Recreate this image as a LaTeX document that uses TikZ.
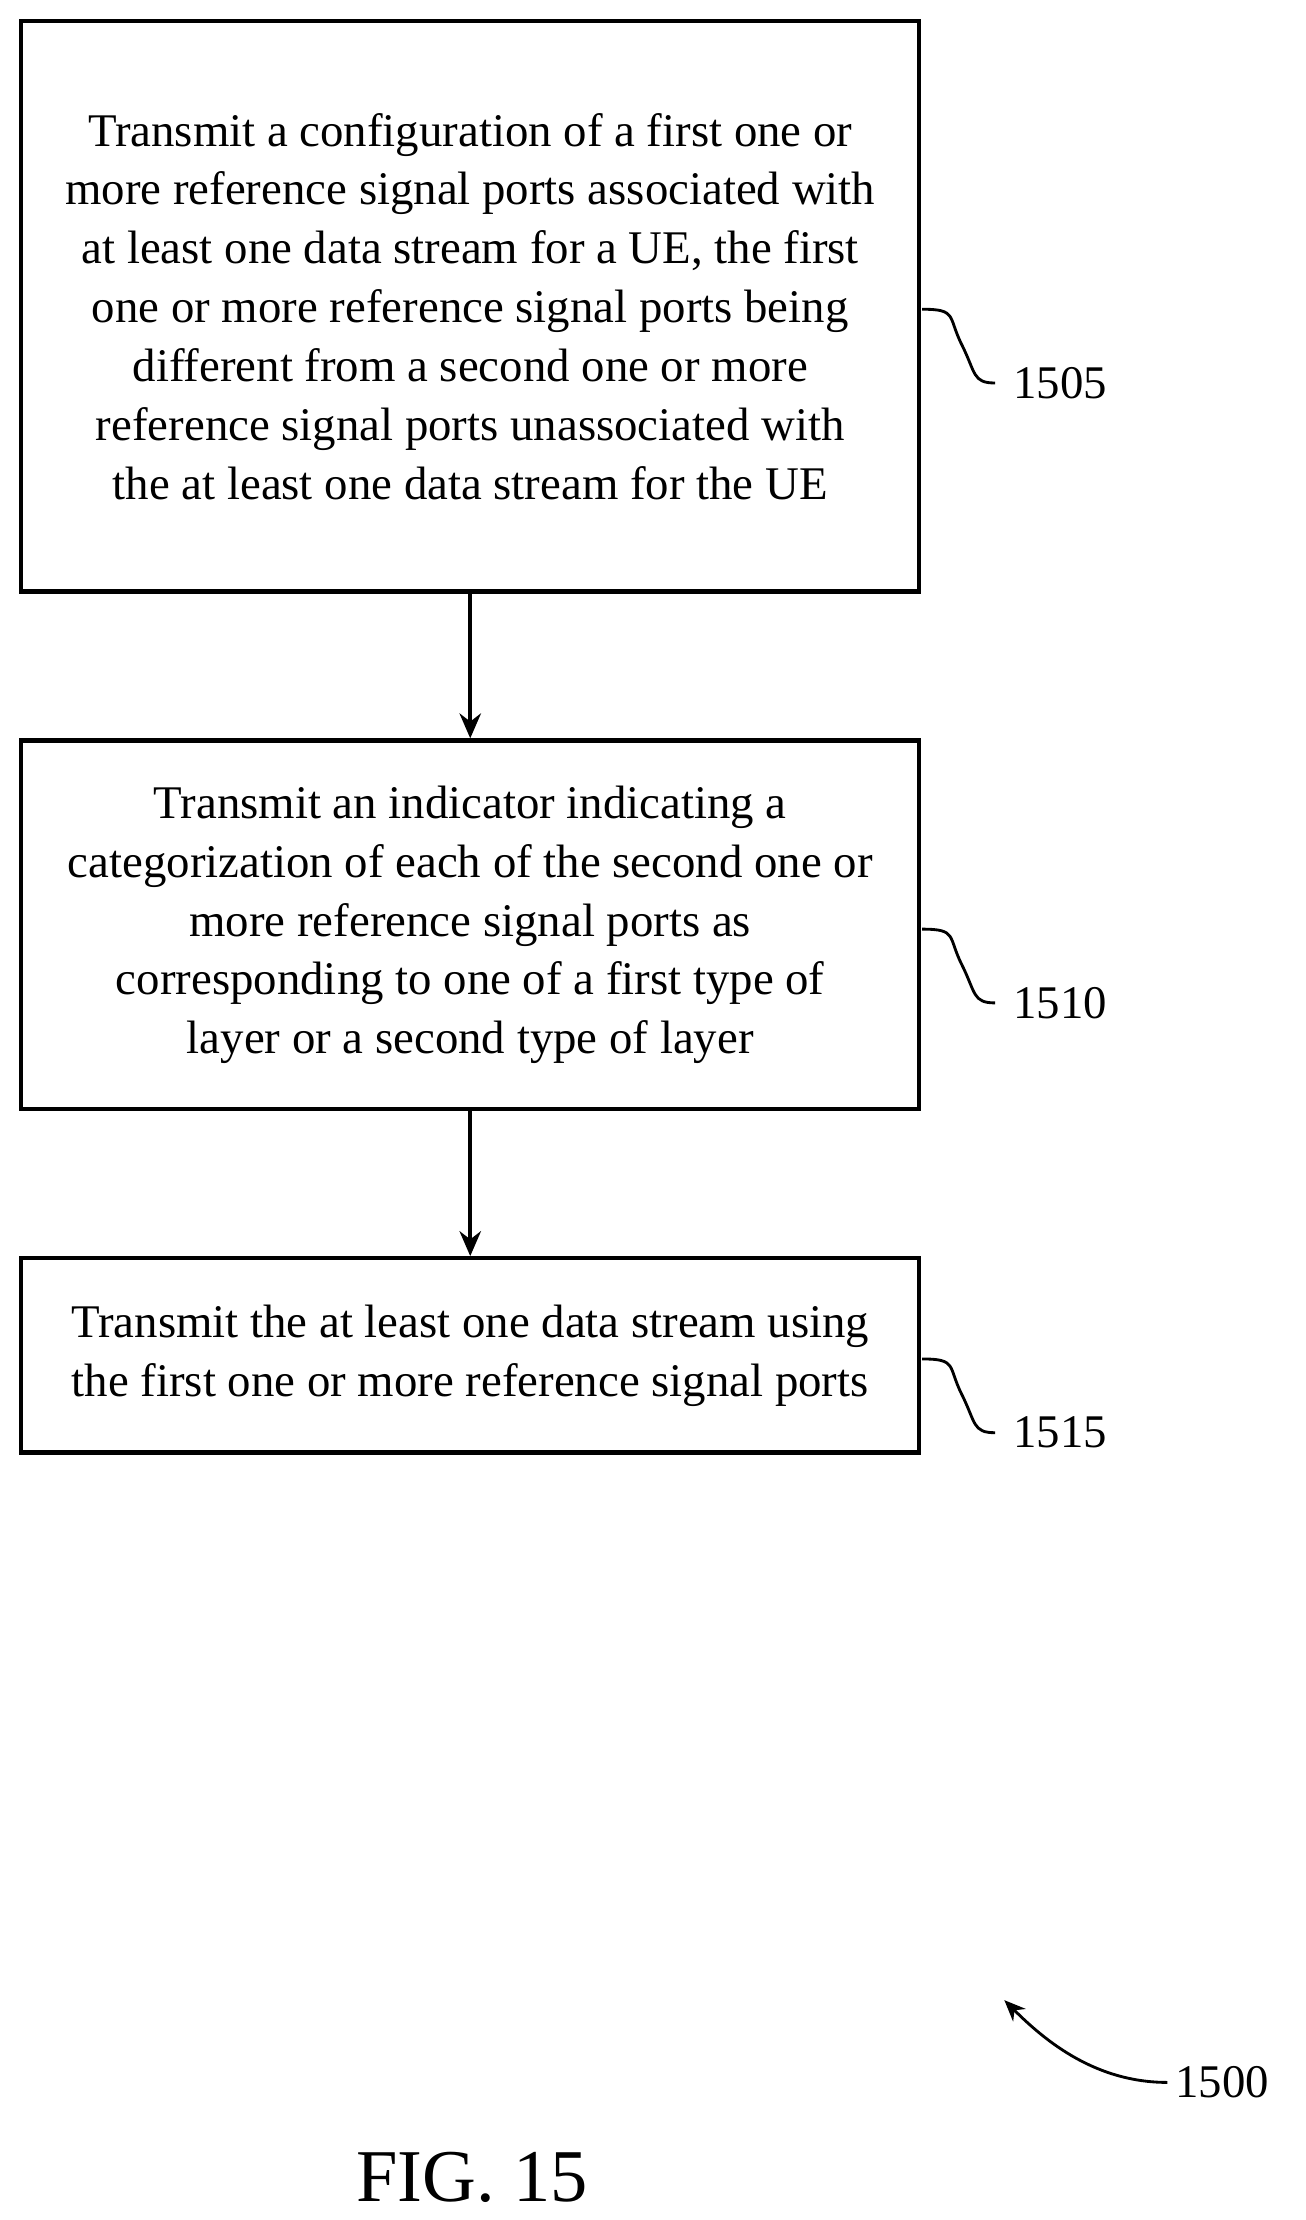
\documentclass[tikz,border=0pt]{standalone}
\usepackage{fontspec}
\setmainfont{Liberation Serif}
\usetikzlibrary{positioning,arrows.meta}
\tikzset{
  stepbox/.style={draw, line width=1.2pt, align=center,
    font=\fontsize{13.2}{16.6}\selectfont, inner sep=0pt},
  lbl/.style={font=\fontsize{13.2}{15}\selectfont, anchor=west, inner sep=0pt},
  flow/.style={-{Stealth[length=7pt,width=6pt]}, line width=1.2pt},
  squig/.style={line width=0.8pt}
}
\begin{document}
\begin{tikzpicture}[x=0.4pt,y=-0.4pt]
\useasboundingbox (0,0) rectangle (920,1565);

% steps
\node[stepbox, minimum height=160.8pt, minimum width=253.2pt] (s1505) at (331.5,216) {Transmit a configuration of a first one or\\ more reference signal ports associated with\\ at least one data stream for a UE, the first\\ one or more reference signal ports being\\ different from a second one or more\\ reference signal ports unassociated with\\ the at least one data stream for the UE};
\node[stepbox, minimum height=104pt, minimum width=253.2pt] (s1510) at (331.5,652) {Transmit an indicator indicating a\\ categorization of each of the second one or\\ more reference signal ports as\\ corresponding to one of a first type of\\ layer or a second type of layer};
\node[stepbox, minimum height=54.8pt, minimum width=253.2pt] (s1515) at (331.5,955.5) {Transmit the at least one data stream using\\ the first one or more reference signal ports};

\draw[flow] (s1505) -- (s1510);
\draw[flow] (s1510) -- (s1515);

% labels
\node[lbl] (l1505) at (714,270) {1505};
\node[lbl] (l1510) at (714,707) {1510};
\node[lbl] (l1515) at (714,1010) {1515};
\coordinate (c1505) at (650,218);
\coordinate (c1510) at (650,655);
\coordinate (c1515) at (650,958);
\foreach \n in {1505,1510,1515}
  \draw[squig] (c\n) .. controls +(25,0) and +(-10,-20) .. +(28,25) .. controls +(10,20) and +(-16,0) .. ([xshift=-5pt]l\n.west);

\node[lbl] (l1500) at (828,1468) {1500};
\coordinate (a1500) at (708,1410);
\draw[squig, -{Stealth[length=6pt,width=5pt]}] ([xshift=-2pt]l1500.west) .. controls +(-50,0) and +(30,30) .. (a1500);

\node[font=\fontsize{21}{24}\selectfont] (fig) at (333,1535) {FIG. 15};
\end{tikzpicture}
\end{document}
